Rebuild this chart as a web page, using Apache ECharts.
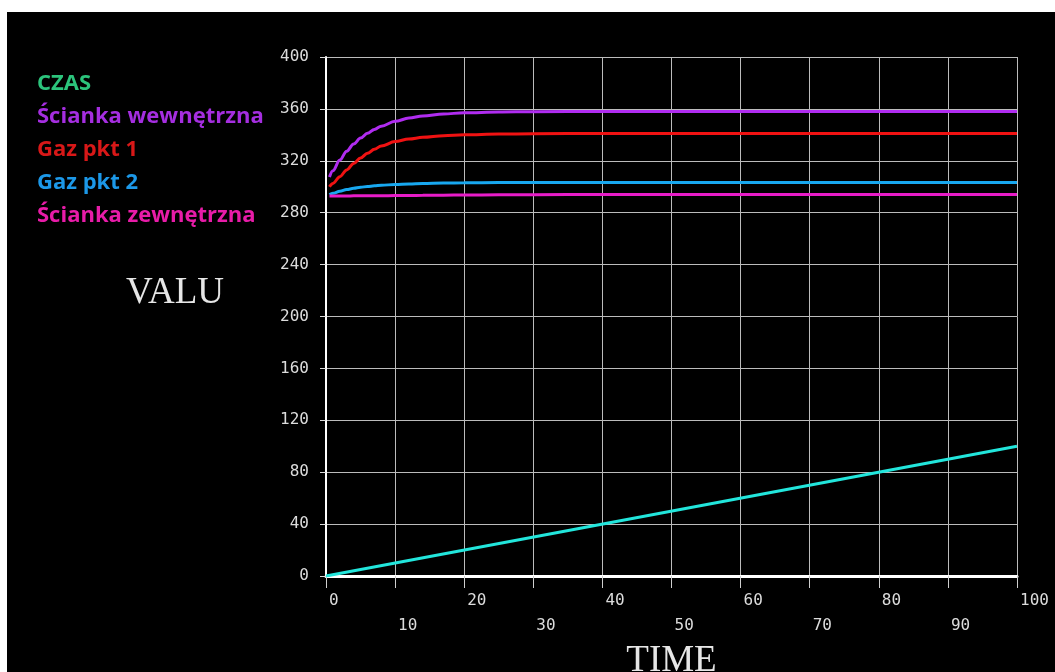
<!DOCTYPE html>
<html>
<head>
<meta charset="utf-8">
<script src="https://cdn.jsdelivr.net/npm/echarts@6/dist/echarts.min.js"></script>
<style>
  html, body { margin: 0; padding: 0; background: #ffffff; }
  #chart { width: 1055px; height: 672px; }
</style>
</head>
<body>
<div id="chart"></div>
<script>
// ---- data ----
const seriesNames = ['CZAS', 'Ścianka wewnętrzna', 'Gaz pkt 1', 'Gaz pkt 2', 'Ścianka zewnętrzna'];
const czasTime = [0, 100];
const czasValues = [0, 100];
const time = [0.5, 1, 2, 3, 4, 5, 6, 7, 8, 10, 12, 14, 17, 20, 25, 30, 40, 50, 60, 70, 80, 90, 100];
const sciankaWewn = [307.5, 312.3, 320.6, 327.4, 332.9, 337.5, 341.2, 344.2, 346.7, 350.4, 352.9, 354.6, 356.1, 357, 357.6, 357.85, 358, 358, 358, 358, 358, 358, 358];
const gazPkt1 = [300, 302.6, 307.8, 313, 317.9, 322.2, 325.8, 328.9, 331.4, 334.8, 336.8, 338.1, 339.4, 340.1, 340.6, 340.9, 341, 341, 341, 341, 341, 341, 341];
const gazPkt2 = [294, 295, 296.5, 297.8, 298.8, 299.6, 300.2, 300.7, 301.1, 301.8, 302.2, 302.5, 302.8, 303, 303.2, 303.3, 303.3, 303.3, 303.3, 303.3, 303.3, 303.3, 303.3];
const sciankaZewn = [292.8, 292.8, 292.9, 292.9, 293, 293, 293, 293.1, 293.1, 293.2, 293.3, 293.4, 293.5, 293.6, 293.8, 293.9, 294, 294, 294, 294, 294, 294, 294];
const xTicks = { min: 0, max: 100, step: 10 };
const yTicks = { min: 0, max: 400, step: 40 };

const lineColors = ['#22e6dc', '#b02cf0', '#f01212', '#18a8f0', '#e81cc8'];
const legendColors = ['#2cc47c', '#a52ee0', '#d81818', '#1c98e8', '#e81ca8'];

function pairs(xs, ys) { return xs.map((x, i) => [x, ys[i]]); }
const seriesData = [
  pairs(czasTime, czasValues),
  pairs(time, sciankaWewn),
  pairs(time, gazPkt1),
  pairs(time, gazPkt2),
  pairs(time, sciankaZewn)
];

const chart = echarts.init(document.getElementById('chart'), null, { renderer: 'canvas' });
const tickFont = { color: '#dcdcdc', fontFamily: 'DejaVu Sans Mono', fontSize: 16 };
const titleFont = 'Liberation Serif';

chart.setOption({
  backgroundColor: '#ffffff',
  animation: false,
  graphic: [
    { type: 'rect', shape: { x: 7, y: 12, width: 1048, height: 660 }, style: { fill: '#000000' }, z: -100, silent: true },
    { type: 'text', x: 175, y: 293, style: { text: 'VALU', fill: '#e6e6e6', fontFamily: titleFont, fontSize: 37, align: 'center', verticalAlign: 'middle' }, silent: true }
  ],
  legend: {
    orient: 'vertical',
    left: 27,
    top: 66,
    itemGap: 8,
    itemWidth: 0,
    itemHeight: 25,
    icon: 'none',
    selectedMode: false,
    textStyle: { fontFamily: 'Open Sans', fontWeight: 'bold', fontSize: 22, lineHeight: 25 },
    data: seriesNames.map((n, i) => ({ name: n, icon: 'none', textStyle: { color: legendColors[i] } }))
  },
  grid: { left: 326, right: 38, top: 57, bottom: 96, containLabel: false, outerBoundsMode: 'none' },
  xAxis: {
    type: 'value',
    min: xTicks.min, max: xTicks.max, interval: xTicks.step,
    name: 'TIME',
    nameLocation: 'middle',
    nameGap: 63,
    nameTextStyle: { color: '#e6e6e6', fontFamily: titleFont, fontSize: 37, verticalAlign: 'top' },
    axisLine: { show: true, lineStyle: { color: '#ffffff', width: 3 } },
    axisTick: { show: true, length: 12, lineStyle: { color: '#cfcfcf', width: 1 } },
    splitLine: { show: true, lineStyle: { color: '#bcbcbc', width: 1 } },
    axisLabel: Object.assign({
      align: 'left',
      margin: 12,
      lineHeight: 25,
      padding: [0, 0, 0, 3],
      formatter: v => ((v / xTicks.step) % 2 === 1 ? '\n' + v : '' + v)
    }, tickFont)
  },
  yAxis: {
    type: 'value',
    min: yTicks.min, max: yTicks.max, interval: yTicks.step,
    axisLine: { show: true, lineStyle: { color: '#ffffff', width: 2 } },
    axisTick: { show: true, length: 6, lineStyle: { color: '#dcdcdc', width: 1 } },
    splitLine: { show: true, lineStyle: { color: '#bcbcbc', width: 1 } },
    axisLabel: Object.assign({ margin: 17, verticalAlign: 'middle', padding: [0, 0, 8, 0] }, tickFont)
  },
  series: seriesNames.map((n, i) => ({
    name: n,
    type: 'line',
    data: seriesData[i],
    showSymbol: false,
    smooth: 0.35,
    smoothMonotone: 'x',
    lineStyle: { color: lineColors[i], width: 3 },
    itemStyle: { color: lineColors[i] },
    z: 3
  }))
});
</script>
</body>
</html>
